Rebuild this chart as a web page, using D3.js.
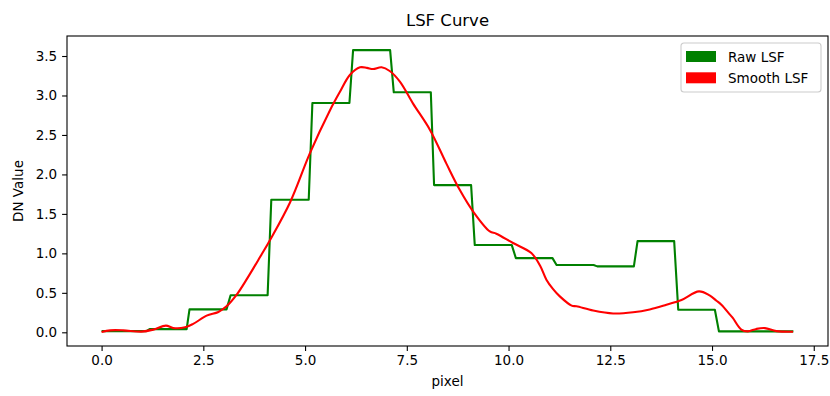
<!DOCTYPE html>
<html>
<head>
<meta charset="utf-8">
<script src="https://cdn.jsdelivr.net/npm/d3@7"></script>
<style>
  html, body { margin: 0; padding: 0; background: #fff; }
  svg { display: block; font-family: "DejaVu Sans", sans-serif; }
</style>
</head>
<body>
<svg id="chart" width="830" height="396"></svg>
<script>
// Raw LSF: one flat segment per pixel (start x, end x, value)
const rawStart = [0.00, 1.18, 2.16, 3.17, 4.17, 5.18, 6.18, 7.18, 8.17, 9.17, 10.18, 11.18, 12.18, 13.17, 14.17, 15.17];
const rawEnd   = [1.10, 2.09, 3.07, 4.08, 5.09, 6.09, 7.09, 8.09, 9.08, 10.08, 11.08, 12.09, 13.08, 14.07, 15.07, 17.00];
const rawValue = [0.015, 0.040, 0.290, 0.470, 1.680, 2.905, 3.575, 3.040, 1.865, 1.105, 0.940, 0.852, 0.835, 1.155, 0.285, 0.012];

// Smoothed LSF samples
const smoothX = [0.00, 0.21, 0.53, 0.98, 1.27, 1.58, 1.76, 2.05, 2.25, 2.58, 2.87, 3.07, 3.32, 3.56, 3.89,
                 4.14, 4.63, 5.12, 5.61, 5.85, 6.10, 6.35, 6.52, 6.67, 6.88, 7.08, 7.33, 7.65, 8.07, 8.47,
                 8.80, 9.13, 9.54, 9.70, 10.11, 10.56, 10.77, 10.93, 11.09, 11.26, 11.55, 11.67, 12.08, 12.57,
                 13.06, 13.47, 13.88, 14.25, 14.68, 14.94, 15.11, 15.23, 15.44, 15.51, 15.72, 15.88, 16.09,
                 16.30, 16.58, 16.99];
const smoothY = [0.005, 0.025, 0.025, 0.009, 0.034, 0.085, 0.055, 0.063, 0.106, 0.211, 0.258, 0.329, 0.477, 0.667, 0.950,
                 1.170, 1.645, 2.270, 2.810, 3.040, 3.260, 3.357, 3.350, 3.335, 3.357, 3.310, 3.175, 2.900, 2.564, 2.140,
                 1.805, 1.530, 1.278, 1.249, 1.131, 1.004, 0.850, 0.667, 0.550, 0.455, 0.338, 0.329, 0.275, 0.238,
                 0.253, 0.290, 0.350, 0.410, 0.519, 0.468, 0.400, 0.350, 0.224, 0.182, 0.034, 0.012, 0.043,
                 0.053, 0.015, 0.007];

const xTicks = [0, 2.5, 5, 7.5, 10, 12.5, 15, 17.5];
const yTicks = [0, 0.5, 1, 1.5, 2, 2.5, 3, 3.5];
const seriesNames = ["Raw LSF", "Smooth LSF"];
const seriesColors = ["#008000", "#ff0000"];

const svg = d3.select("#chart");
const plot = { left: 67, right: 828, top: 36, bottom: 346 };

// Axis limits with 5% padding around the data, as matplotlib does
const allX = rawStart.concat(rawEnd, smoothX);
const allY = rawValue.concat(smoothY);
const [x0, x1] = d3.extent(allX);
const [y0, y1] = d3.extent(allY);
const px = (x1 - x0) * 0.05, py = (y1 - y0) * 0.05;

const x = d3.scaleLinear().domain([x0 - px, x1 + px]).range([plot.left, plot.right]);
const y = d3.scaleLinear().domain([y0 - py, y1 + py]).range([plot.bottom, plot.top]);

// Lines
const rawPts = [];
rawValue.forEach((v, i) => { rawPts.push([rawStart[i], v]); rawPts.push([rawEnd[i], v]); });

const rawLine = d3.line().x(d => x(d[0])).y(d => y(d[1]));
const smoothLine = d3.line().x(d => x(d[0])).y(d => y(d[1])).curve(d3.curveCatmullRom.alpha(0.5));

svg.append("path")
  .attr("d", rawLine(rawPts))
  .attr("fill", "none").attr("stroke", seriesColors[0])
  .attr("stroke-width", 2.1).attr("stroke-linejoin", "round");

svg.append("path")
  .attr("d", smoothLine(smoothX.map((v, i) => [v, smoothY[i]])))
  .attr("fill", "none").attr("stroke", seriesColors[1])
  .attr("stroke-width", 2.1).attr("stroke-linejoin", "round");

// Axes
const fontPx = 13.5;
const xAxis = d3.axisBottom(x).tickValues(xTicks).tickFormat(d3.format(".1f")).tickSize(4.9).tickPadding(4.9);
const yAxis = d3.axisLeft(y).tickValues(yTicks).tickFormat(d3.format(".1f")).tickSize(4.9).tickPadding(4.9);

const gx = svg.append("g").attr("transform", `translate(0,${plot.bottom})`).call(xAxis);
const gy = svg.append("g").attr("transform", `translate(${plot.left},0)`).call(yAxis);
[gx, gy].forEach(g => {
  g.select(".domain").remove();
  g.selectAll(".tick line").attr("stroke", "#000").attr("stroke-width", 1.1);
  g.selectAll(".tick text").attr("fill", "#000").style("font-size", fontPx + "px")
    .style("font-family", "DejaVu Sans");
});

// Frame
svg.append("rect")
  .attr("x", plot.left).attr("y", plot.top)
  .attr("width", plot.right - plot.left).attr("height", plot.bottom - plot.top)
  .attr("fill", "none").attr("stroke", "#000").attr("stroke-width", 1.1);

// Title and axis labels
svg.append("text")
  .attr("x", (plot.left + plot.right) / 2).attr("y", 26)
  .attr("text-anchor", "middle").style("font-size", "16.5px").attr("fill", "#000")
  .text("LSF Curve");

svg.append("text")
  .attr("x", (plot.left + plot.right) / 2).attr("y", 386)
  .attr("text-anchor", "middle").style("font-size", fontPx + "px").attr("fill", "#000")
  .text("pixel");

svg.append("text")
  .attr("transform", `translate(23,${(plot.top + plot.bottom) / 2}) rotate(-90)`)
  .attr("text-anchor", "middle").style("font-size", fontPx + "px").attr("fill", "#000")
  .text("DN Value");

// Legend
const legend = svg.append("g").attr("transform", "translate(681,43)");
legend.append("rect")
  .attr("width", 140).attr("height", 49).attr("rx", 3)
  .attr("fill", "#fff").attr("fill-opacity", 0.8)
  .attr("stroke", "#cccccc").attr("stroke-width", 1.1);
seriesNames.forEach((name, i) => {
  const row = legend.append("g").attr("transform", `translate(5,${8 + i * 21.3})`);
  row.append("rect").attr("width", 30).attr("height", 11).attr("fill", seriesColors[i]);
  row.append("text").attr("x", 42).attr("y", 10.5)
    .style("font-size", fontPx + "px").attr("fill", "#000").text(name);
});
</script>
</body>
</html>
